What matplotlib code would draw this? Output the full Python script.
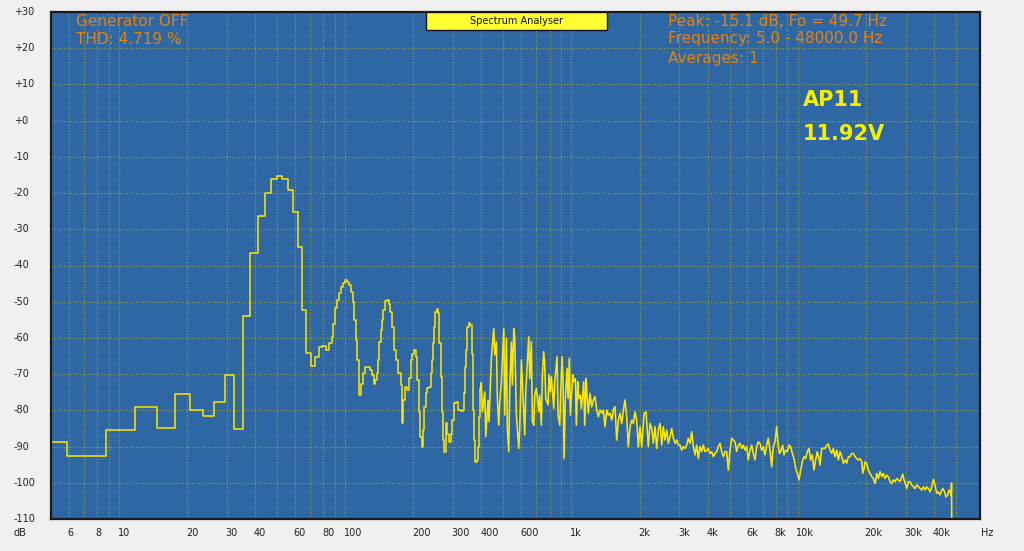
import numpy as np
import matplotlib.pyplot as plt
from matplotlib.patches import Rectangle
from matplotlib import transforms

# FFT bins at the low end, Hz / dB
bins_hz = [5.0, 5.86, 8.79, 11.72, 14.65, 17.58, 20.51, 23.44, 26.37, 29.30,
           32.23, 35.16, 38.09, 41.02, 43.95, 46.88, 49.80, 52.73, 55.66, 58.59,
           61.52, 64.45, 67.38, 70.31, 73.24, 76.17, 79.10, 82.03]
bins_db = [-88.7, -92.5, -85.3, -79.0, -85.0, -75.6, -79.9, -81.6, -77.6, -70.3,
           -85.2, -53.9, -36.5, -26.2, -19.9, -16.1, -15.2, -16.2, -19.2, -25.1,
           -34.8, -52.3, -64.1, -67.8, -65.2, -62.5, -62.3, -63.4]

# hum harmonics region
hum_hz = [85.1, 87.2, 88.6, 90.4, 92.3, 94.2, 95.5, 97.5, 99.8, 102.2,
          104.3, 106.1, 108.0, 109.4, 111.6, 113.1, 114.7, 115.4, 117.1, 119.5,
          122.3, 125.2, 128.7, 131.3, 134.1, 135.9, 138.7, 140.1, 141.5, 143.5,
          145.5, 147.4, 149.5, 152.6, 155.7, 157.8, 160.6, 164.4, 167.7, 171.7,
          176.0, 177.8, 178.8, 180.6, 183.8, 188.2, 192.0, 194.8, 197.4, 201.5,
          205.6, 208.4, 211.4, 214.2, 217.9, 220.1, 223.1, 227.0, 230.7, 235.4,
          238.8, 242.0, 243.7, 247.0, 250.2, 253.8, 257.2, 260.6, 264.4, 267.9,
          271.5, 274.3, 278.2, 282.8, 288.6, 292.7, 297.5, 302.7, 309.0, 316.2,
          324.0, 330.7, 335.1, 338.5, 342.0, 346.6, 351.6, 356.3, 362.5, 366.3,
          368.4, 372.2, 376.0, 381.4, 385.3, 390.4, 394.4]
hum_db = [-61.5, -59.7, -56.2, -51.8, -49.5, -47.5, -45.9, -44.8, -44.0, -44.5,
          -45.4, -47.2, -50.0, -55.1, -60.6, -66.1, -71.6, -75.8, -72.6, -69.8,
          -68.0, -68.0, -68.9, -70.3, -72.7, -71.6, -69.8, -66.1, -61.1, -57.8,
          -55.1, -52.3, -49.7, -49.5, -50.5, -52.8, -56.9, -63.3, -66.1, -69.8,
          -73.0, -79.9, -83.4, -77.1, -73.5, -74.4, -71.2, -66.1, -64.3, -63.2,
          -65.2, -71.6, -80.4, -87.3, -90.0, -85.4, -79.0, -75.3, -73.9, -73.5,
          -69.8, -66.1, -61.5, -56.9, -52.8, -52.1, -53.2, -61.5, -70.7, -80.4,
          -88.2, -91.4, -83.6, -86.4, -88.7, -86.4, -82.7, -78.1, -77.6, -79.9,
          -80.1, -79.9, -75.3, -68.0, -63.3, -56.9, -55.8, -56.5, -64.3, -71.6,
          -79.9, -88.2, -94.2, -93.7, -90.0, -81.8, -74.4]

mid_hz = [399.6, 403.7, 413.7, 417.9, 427.8, 432.2, 442.4, 453.4, 458.0, 465.6,
          470.3, 477.1, 482.0, 489.9, 502.0, 507.1, 515.5, 520.7, 528.2, 533.6,
          542.4, 547.9, 555.8, 561.5, 570.7, 584.8, 590.7, 600.5, 606.6, 621.6,
          627.9, 647.4, 654.0, 664.8, 671.6, 681.2, 688.1, 699.5, 706.7, 716.8,
          724.1, 736.0, 743.5, 754.2, 761.9, 769.6, 787.9, 795.9, 806.6, 814.8,
          835.0, 843.5, 863.6, 872.4, 887.6, 896.6, 908.7, 918.0, 927.3, 939.7,
          956.1, 965.8, 978.8, 988.8, 1013.2, 1023.6, 1040.4, 1051.0, 1066.1, 1077.0,
          1094.7, 1105.8, 1133.1, 1144.7, 1160.1, 1171.9, 1187, 1208, 1229, 1250,
          1271, 1293, 1315, 1338, 1361, 1383, 1407, 1432, 1455, 1481,
          1507, 1531, 1558, 1585, 1612, 1639, 1668, 1696, 1725, 1755,
          1784, 1815, 1847, 1877, 1910, 1943, 1975, 2010]
mid_db = [-72.5, -80.4, -74.9, -87.3, -77.2, -83.1, -65.6, -57.4, -64.7, -61.1,
          -76.7, -84.1, -77.6, -72.1, -57.4, -81.3, -60.1, -85.0, -91.4, -73.9,
          -61.1, -73.0, -57.4, -60.1, -81.3, -90.5, -85.0, -66.1, -72.1, -86.8,
          -74.9, -59.7, -71.2, -61.1, -83.1, -84.1, -75.8, -73.9, -76.7, -80.4,
          -75.8, -84.1, -70.2, -63.8, -67.5, -76.7, -78.5, -70.2, -74.9, -70.7,
          -79.5, -72.1, -65.2, -81.3, -84.1, -74.9, -65.2, -72.1, -93.3, -76.7,
          -68.4, -76.7, -65.6, -81.3, -70.2, -72.1, -71.2, -84.1, -72.1, -76.7,
          -75.8, -79.5, -72.1, -84.1, -71.2, -75.8, -80.8, -75.3, -79.0, -77.1,
          -76.2, -79.9, -81.8, -79.9, -80.8, -79.9, -84.5, -79.9, -81.3, -80.8,
          -82.7, -79.9, -79.0, -88.2, -82.7, -80.8, -83.6, -79.9, -77.1, -81.8,
          -90.1, -84.5, -82.7, -83.6, -80.4, -82.7, -90.1, -84.5]

high_hz = [2045, 2094, 2136, 2187, 2225, 2264, 2301, 2341, 2382, 2421,
           2464, 2506, 2548, 2592, 2637, 2681, 2728, 2775, 2821, 2870,
           2920, 2968, 3020, 3072, 3123, 3177, 3233, 3286, 3344, 3402,
           3458, 3518, 3579, 3638, 3701, 3766, 3828, 3894, 3962, 4027,
           4097, 4169, 4238, 4312, 4386, 4459, 4536, 4615, 4692, 4773,
           4857, 4937, 5023, 5110, 5194, 5284, 5377, 5465, 5561, 5657,
           5750, 5851, 5952, 6050, 6156, 6263, 6367, 6478, 6590, 6699,
           6815, 6934, 7048, 7171, 7296, 7416, 7546, 7677, 7804, 7940,
           8079, 8161, 8296, 8414, 8587, 8702, 8853, 9000, 9157, 9316,
           9470, 9634, 9802, 9963, 10137, 10313, 10483, 10666, 10852, 11030,
           11222, 11417, 11605, 11807, 12013, 12211, 12425]
high_db = [-90.0, -80.8, -80.4, -90.0, -83.6, -85.0, -89.1, -84.5, -90.5, -85.4,
           -83.6, -89.6, -84.5, -88.2, -85.4, -89.1, -87.3, -85.0, -87.7, -89.1,
           -88.2, -89.6, -89.6, -91.0, -90.0, -90.5, -89.6, -87.7, -89.1, -85.9,
           -90.0, -92.3, -89.6, -93.3, -90.0, -91.4, -89.6, -91.4, -91.0, -90.5,
           -91.9, -91.4, -92.8, -91.9, -91.4, -90.0, -89.1, -91.4, -92.8, -91.4,
           -91.4, -96.5, -91.0, -87.7, -88.2, -88.7, -91.4, -89.6, -89.1, -90.5,
           -89.6, -91.0, -90.0, -93.7, -91.0, -89.6, -91.9, -93.7, -90.0, -88.7,
           -89.1, -91.0, -90.0, -92.3, -89.6, -87.7, -91.0, -95.6, -90.0, -88.7,
           -84.5, -88.2, -91.9, -91.4, -89.6, -92.3, -91.0, -91.4, -89.6, -90.0,
           -91.9, -93.3, -96.0, -97.4, -99.2, -96.5, -94.2, -92.8, -93.3, -91.4,
           -90.5, -93.7, -92.3, -96.5, -93.7, -91.4, -93.3]

top_hz = [12560, 12780, 12990, 13215, 13445, 13667, 13905, 14148, 14381, 14632,
          14887, 15133, 15397, 15665, 15924, 16202, 16484, 16756, 17048, 17345,
          17631, 17938, 18251, 18552, 18875, 19204, 19400, 19661, 19861, 20207,
          20540, 20893, 21257, 21609, 21986, 22369, 22739, 23136, 23539, 23928,
          24345, 24769, 25178, 25617, 26063, 26494, 26955, 27425, 27878, 28364,
          28858, 29152, 29544, 30059, 30365, 30866, 31404, 31951, 32478, 33044,
          33620, 34174, 34770, 35376, 35959, 36586, 37223, 37837, 38497, 39168,
          39814, 40508, 41214, 41894, 42624, 43367, 43900, 44600, 45300, 46000,
          46700, 47300, 47700, 47900, 48000]
top_db = [-95.1, -90.5, -90.5, -90.5, -89.6, -89.3, -91.0, -91.9, -90.5, -92.8,
          -91.0, -93.7, -91.4, -92.8, -94.6, -93.7, -94.6, -92.8, -92.8, -91.9,
          -91.9, -92.8, -93.3, -93.7, -93.3, -94.2, -97.4, -96.0, -94.2, -94.6,
          -96.5, -97.4, -98.3, -98.8, -100.2, -97.4, -98.8, -96.9, -98.3, -97.4,
          -98.8, -97.9, -98.3, -99.7, -100.2, -99.2, -99.7, -98.8, -99.2, -99.7,
          -98.3, -97.6, -99.2, -100.6, -101.6, -99.7, -99.7, -100.6, -101.1, -101.6,
          -100.6, -101.1, -101.6, -102.0, -101.1, -102.0, -101.1, -101.6, -102.5, -101.1,
          -99.1, -100.6, -102.9, -102.5, -103.4, -102.0, -101.6, -102.5, -103.9, -103.4,
          -102.0, -102.5, -103.5, -100.0, -112.0]

ytick_db = [30, 20, 10, 0, -10, -20, -30, -40, -50, -60, -70, -80, -90, -100, -110]
ytick_text = ['+30', '+20', '+10', '+0', '-10', '-20', '-30', '-40', '-50', '-60',
              '-70', '-80', '-90', '-100', '-110']
xtick_hz = [6, 8, 10, 20, 30, 40, 60, 80, 100, 200, 300, 400, 600, 1000,
            2000, 3000, 4000, 6000, 8000, 10000, 20000, 30000, 40000]
xtick_text = ['6', '8', '10', '20', '30', '40', '60', '80', '100', '200', '300',
              '400', '600', '1k', '2k', '3k', '4k', '6k', '8k', '10k', '20k',
              '30k', '40k']

# below ~400 Hz the analyser draws stair steps, above that a plain trace
step_hz = np.array(bins_hz + hum_hz + mid_hz[:1])
step_db = np.array(bins_db + hum_db + mid_db[:1])
line_hz = np.concatenate([hum_hz[-1:], mid_hz, high_hz, top_hz])
line_db = np.concatenate([hum_db[-1:], mid_db, high_db, top_db])

W, H = 1024, 551
fig = plt.figure(figsize=(W / 100, H / 100), dpi=100, facecolor='#F0F0F0')
ax = fig.add_axes([51 / W, 1 - 519 / H, (980 - 51) / W, (519 - 12) / H])
ax.set_facecolor('#2F66A4')
ax.set_xscale('log')
ax.set_xlim(5, 64000)
ax.set_ylim(-110, 30)

grid_hz = [m * 10 ** d for d in range(0, 5) for m in range(1, 10)
           if 5 < m * 10 ** d <= 50000]
ax.set_xticks(grid_hz)
ax.xaxis.set_minor_locator(plt.NullLocator())
ax.set_yticks(ytick_db)
ax.set_xticklabels([])
ax.set_yticklabels([])
ax.tick_params(length=0)
ax.grid(True, color='#8E9C3B', linestyle=(0, (1, 1.5)), linewidth=0.9)
for s in ax.spines.values():
    s.set_color('#1A1A1A')
    s.set_linewidth(1.6)

trace_col = '#FFE600'
ax.plot(step_hz, step_db, drawstyle='steps-post', color=trace_col, linewidth=1.1)
ax.plot(line_hz, line_db, color=trace_col, linewidth=1.15)

tick_col = '#222222'
for f, t in zip(xtick_hz, xtick_text):
    ax.annotate(t, xy=(f, 0), xycoords=('data', 'axes fraction'),
                xytext=(-1, -10), textcoords='offset points',
                ha='left', va='center', fontsize=7, color=tick_col)

ytrans = transforms.blended_transform_factory(fig.transFigure, ax.transData)
for v, t in zip(ytick_db, ytick_text):
    fig.text(14 / W, v, t, transform=ytrans, ha='left', va='center',
             fontsize=7, color=tick_col)
fig.text(14 / W, 1 - 533 / H, 'dB', ha='left', va='center', fontsize=7, color=tick_col)
fig.text(981 / W, 1 - 533 / H, 'Hz', ha='left', va='center', fontsize=7, color=tick_col)

# title box
fig.add_artist(Rectangle((426 / W, 1 - 30 / H), 181 / W, 18 / H,
                         transform=fig.transFigure, facecolor='#FFFF33',
                         edgecolor='#111111', linewidth=1.0))
fig.text(516 / W, 1 - 21 / H, 'Spectrum Analyser', ha='center', va='center',
         fontsize=7, color='#111111')

orange = '#E5820E'
fig.text(76 / W, 1 - 21 / H, 'Generator OFF', ha='left', va='center', fontsize=11, color=orange)
fig.text(76 / W, 1 - 39 / H, 'THD: 4.719 %', ha='left', va='center', fontsize=11, color=orange)
fig.text(668 / W, 1 - 21 / H, 'Peak: -15.1 dB, Fo = 49.7 Hz', ha='left', va='center',
         fontsize=11, color=orange)
fig.text(668 / W, 1 - 39 / H, 'Frequency: 5.0 - 48000.0 Hz', ha='left', va='center',
         fontsize=11, color=orange)
fig.text(668 / W, 1 - 58 / H, 'Averages: 1', ha='left', va='center', fontsize=11, color=orange)

fig.text(803 / W, 1 - 100 / H, 'AP11', ha='left', va='center', fontsize=15,
         fontweight='bold', color='#F5F000')
fig.text(803 / W, 1 - 134 / H, '11.92V', ha='left', va='center', fontsize=15,
         fontweight='bold', color='#F5F000')

fig.savefig('out.png', dpi=100, facecolor=fig.get_facecolor())
